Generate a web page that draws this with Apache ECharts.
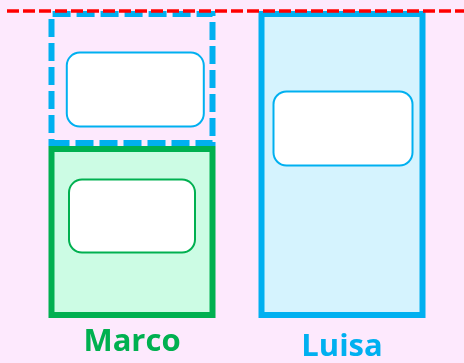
<!DOCTYPE html>
<html><head><meta charset="utf-8">
<script src="https://cdn.jsdelivr.net/npm/echarts@6/dist/echarts.min.js"></script>
<style>html,body{margin:0;padding:0;background:#fde9fd}#c{width:464px;height:363px}</style>
</head><body><div id="c"></div>
<script>
const categories = ['Marco', 'Luisa'];
const values = [56, 100];
const target = 100;
const gapValues = values.map((v, i) => (i === 0 ? target - v : '-'));

const GREEN = '#00b050', BLUE = '#00b0f0';
function box(border, w, h, off) {
  return { show: true, position: 'inside', offset: off, formatter: ' ', backgroundColor: '#ffffff',
    borderColor: border, borderWidth: 2, borderRadius: 12, width: w, height: h, padding: 0 };
}
const chart = echarts.init(document.getElementById('c'), null, { renderer: 'canvas' });
chart.setOption({
  animation: false,
  backgroundColor: '#fde9fd',
  grid: { left: 27, right: 17, top: 11, bottom: 40 },
  xAxis: {
    type: 'category', data: categories,
    axisLine: { show: false }, axisTick: { show: false }, splitLine: { show: false },
    axisLabel: {
      margin: 9, interval: 0,
      formatter: v => (v === categories[0] ? '{m|' + v + '}' : '{l|' + v + '}'),
      rich: {
        m: { color: GREEN, fontFamily: 'Open Sans', fontWeight: 'bold', fontSize: 31 },
        l: { color: BLUE, fontFamily: 'Open Sans', fontWeight: 'bold', fontSize: 31, padding: [5, 0, 0, 0] }
      }
    }
  },
  yAxis: { type: 'value', min: 0, max: target, show: false, splitLine: { show: false } },
  series: [
    {
      type: 'bar', stack: 's', barWidth: 167,
      data: values.map((v, i) => ({
        value: v,
        itemStyle: i === 0
          ? { color: '#ccfce4', borderColor: GREEN, borderWidth: 6 }
          : { color: '#d5f3fe', borderColor: BLUE, borderWidth: 6 },
        label: i === 0 ? box(GREEN, 124, 71, [0, -16]) : box(BLUE, 137, 72, [1, -36])
      })),
      markLine: {
        silent: true, symbol: ['none', 'none'], label: { show: false },
        lineStyle: { color: '#ff0000', width: 3.5, type: [12, 4] },
        data: [[{ yAxis: target, x: 7 }, { yAxis: target, x: '100%' }]]
      }
    },
    {
      type: 'bar', stack: 's', barWidth: 167,
      data: gapValues.map(v => ({
        value: v,
        itemStyle: { color: 'rgba(0,0,0,0)', borderColor: BLUE, borderWidth: 6, borderType: [18, 6] },
        label: box(BLUE, 135, 72, [3.3, 11])
      }))
    }
  ]
});
</script></body></html>
